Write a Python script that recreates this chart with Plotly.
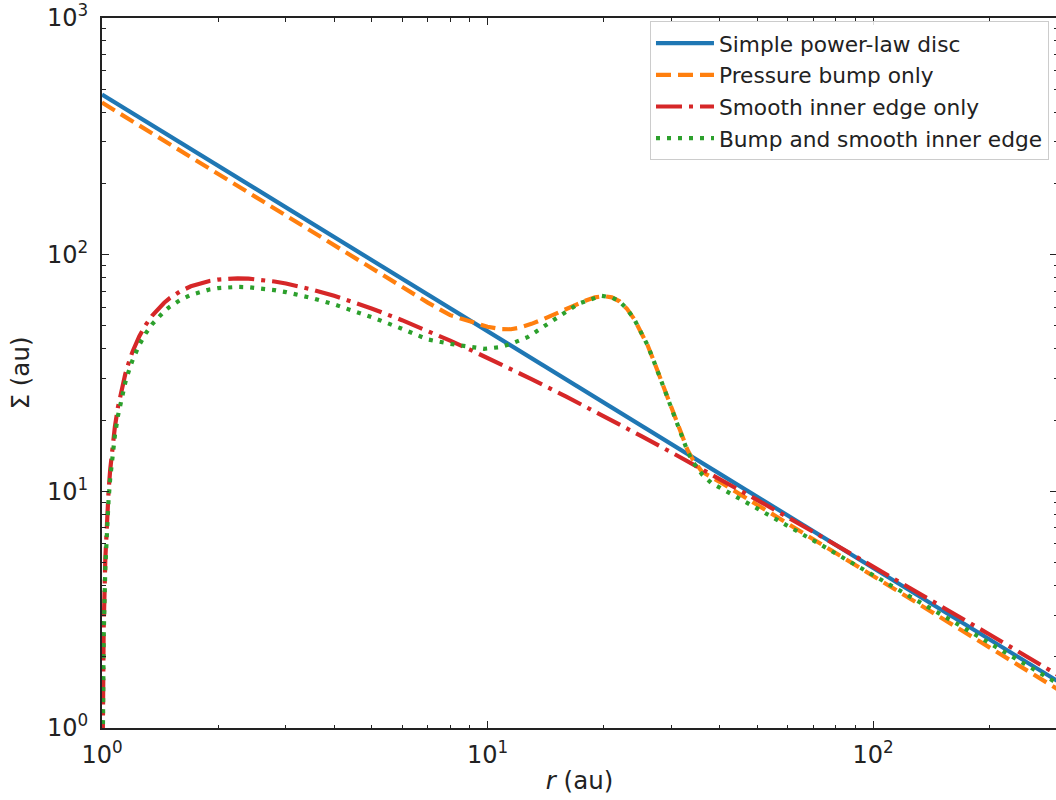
import plotly.graph_objects as go

# ---- data ----
r_simple = [1.0, 2.0, 5.0, 10.0, 20.0, 50.0, 100.0, 200.0, 300.0]
sigma_simple = [475.0, 237.5, 95.0, 47.5, 23.75, 9.5, 4.75, 2.375, 1.583]

r_bump = [1.0, 1.5, 2.0, 3.0, 4.0, 5.0, 6.0, 7.0, 8.0, 9.0, 10.0, 10.8, 11.5, 12.0,
          13.0, 14.0, 15.0, 16.0, 17.0, 18.0, 19.0, 20.0, 21.0, 22.0, 23.0, 24.0,
          25.0, 26.0, 27.0, 28.0, 29.0, 30.0, 31.0, 32.0, 33.0, 34.0, 35.0, 36.0,
          38.0, 40.0, 50.0, 70.0, 100.0, 150.0, 200.0, 300.0]
sigma_bump = [439.0, 292.6, 219.5, 146.3, 109.7, 87.8, 73.2, 62.7, 55.5, 52.3, 49.6, 48.5, 48.4, 49.0,
              51.0, 53.5, 56.0, 58.5, 61.5, 64.0, 66.0, 66.8, 66.0, 63.5, 59.0, 53.5,
              47.5, 41.5, 35.5, 30.4, 26.0, 22.0, 19.3, 16.8, 15.0, 13.7, 12.8, 12.1,
              11.5, 10.97, 8.78, 6.27, 4.39, 2.93, 2.19, 1.463]

r_edge = [1.002, 1.005, 1.01, 1.02, 1.03, 1.04, 1.05, 1.06, 1.07, 1.08, 1.1, 1.12, 1.15, 1.18,
          1.2, 1.25, 1.3, 1.35, 1.4, 1.45, 1.5, 1.6, 1.7, 1.8, 1.9, 2.0, 2.1, 2.25, 2.4, 2.6,
          2.8, 3.0, 3.2, 3.5, 4.0, 4.5, 5.0, 6.0, 7.0, 8.0, 9.0, 10.0, 11.5, 13.0, 16.0,
          20.0, 25.0, 30.0, 40.0, 50.0, 70.0, 100.0, 150.0, 200.0, 300.0]
sigma_edge = [0.534, 1.33, 2.634, 5.177, 7.634, 10.01, 12.30, 14.52, 16.66, 18.73, 22.68, 26.36, 31.46, 36.08,
              38.92, 45.27, 50.69, 55.32, 59.29, 62.67, 65.57, 70.16, 73.48, 75.83, 77.45, 78.50, 79.11, 79.41, 79.17, 78.30,
              77.03, 75.51, 73.86, 71.28, 67.0, 62.96, 59.26, 52.86, 47.63, 43.31, 39.70, 36.65, 32.86, 29.80, 25.13,
              20.81, 17.15, 14.60, 11.28, 9.204, 6.742, 4.824, 3.282, 2.490, 1.683]

r_both = [1.002, 1.005, 1.01, 1.02, 1.03, 1.04, 1.05, 1.06, 1.07, 1.08, 1.1, 1.12, 1.15, 1.18,
          1.2, 1.25, 1.3, 1.35, 1.4, 1.45, 1.5, 1.6, 1.7, 1.8, 1.9, 2.0, 2.1, 2.25, 2.4, 2.6,
          2.8, 3.0, 3.2, 3.5, 4.0, 4.5, 5.0, 6.0, 7.0, 8.0, 9.0, 9.8, 10.8, 11.5,
          12.7, 14.6, 15.5, 17.2, 19.7, 21.0, 22.0, 23.0, 24.0, 25.0, 26.0, 27.0, 28.0,
          29.0, 30.0, 31.0, 32.0, 33.0, 34.0, 35.0, 36.0, 38.0, 40.0, 50.0, 70.0,
          100.0, 150.0, 200.0, 300.0]
sigma_both = [0.491, 1.224, 2.42, 4.76, 7.02, 9.21, 11.32, 13.36, 15.33, 17.23, 20.87, 24.25, 28.94, 33.19,
              35.81, 41.65, 46.63, 50.89, 54.55, 57.66, 60.32, 64.55, 67.6, 69.76, 71.25, 72.22, 72.78, 73.06, 72.84, 72.04,
              70.87, 69.47, 67.95, 65.58, 61.64, 57.92, 54.52, 48.63, 43.82, 42.0, 40.8, 40.0, 40.7, 42.0,
              44.8, 51.8, 55.5, 62.0, 67.0, 66.0, 63.5, 59.0, 53.5, 47.5, 41.5, 35.5, 30.2,
              25.8, 22.0, 19.2, 16.6, 14.8, 13.4, 12.5, 11.8, 10.87, 10.38, 8.47, 6.20,
              4.44, 3.02, 2.29, 1.548]

labels = ["Simple power-law disc", "Pressure bump only",
          "Smooth inner edge only", "Bump and smooth inner edge"]
colors = ["#1f77b4", "#ff7f0e", "#d62728", "#2ca02c"]

x_tickvals = [1, 10, 100]
x_ticktext = ["10<sup>0</sup>", "10<sup>1</sup>", "10<sup>2</sup>"]
y_tickvals = [1, 10, 100, 1000]
y_ticktext = ["10<sup>0</sup>", "10<sup>1</sup>", "10<sup>2</sup>", "10<sup>3</sup>"]
x_minor = [2, 3, 4, 5, 6, 7, 8, 9, 20, 30, 40, 50, 60, 70, 80, 90, 200, 300]
y_minor = [2, 3, 4, 5, 6, 7, 8, 9, 20, 30, 40, 50, 60, 70, 80, 90, 200, 300, 400, 500, 600, 700, 800, 900]

x_range = [0, 2.4771]
y_range = [-0.0000001, 3.0000001]

FONT = "DejaVu Sans"
TXT = "#222222"
LW = 4.2
TICKFONT = 24
TITLEFONT = 24.5

fig = go.Figure()
fig.add_trace(go.Scatter(x=r_simple, y=sigma_simple, mode="lines", name=labels[0],
                         legendgroup="a", line=dict(color=colors[0], width=LW)))
fig.add_trace(go.Scatter(x=r_bump, y=sigma_bump, mode="lines", name=labels[1],
                         legendgroup="b", line=dict(color=colors[1], width=LW, dash="15px,7px")))
fig.add_trace(go.Scatter(x=r_edge, y=sigma_edge, mode="lines", name=labels[2],
                         legendgroup="c", line=dict(color=colors[2], width=LW, dash="26px,7px,4px,7px")))
fig.add_trace(go.Scatter(x=r_both, y=sigma_both, mode="lines", name=labels[3],
                         legendgroup="d", xaxis="x2", yaxis="y2",
                         line=dict(color=colors[3], width=LW, dash="4px,7px")))

tick_common = dict(ticks="inside", ticklen=7, tickwidth=1.3, tickcolor=TXT, showgrid=False,
                   zeroline=False)
minor_common = dict(ticks="inside", ticklen=3.5, tickwidth=1, tickcolor=TXT, showgrid=False)

fig.update_layout(
    width=1057, height=800, autosize=False,
    paper_bgcolor="white", plot_bgcolor="white",
    margin=dict(l=102, r=0, t=13.5, b=72),
    font=dict(family=FONT, size=21, color=TXT),
    showlegend=True,
    legend=dict(x=0.9916, y=0.9951, xanchor="right", yanchor="top",
                bgcolor="rgba(255,255,255,0.85)", bordercolor="#cccccc", borderwidth=1,
                font=dict(family=FONT, size=21.7, color=TXT),
                traceorder="grouped", tracegroupgap=0.5, itemwidth=58),
    xaxis=dict(type="log", range=x_range, tickmode="array", tickvals=x_tickvals,
               ticktext=x_ticktext, showline=True, linewidth=2, linecolor=TXT, mirror=True,
               ticklabelstandoff=4, tickfont=dict(size=TICKFONT), ticklabeloverflow="allow",
               minor=dict(tickmode="array", tickvals=x_minor, **minor_common),
               title=dict(text="<i>r</i> (au)", font=dict(size=TITLEFONT), standoff=4),
               **tick_common),
    yaxis=dict(type="log", range=y_range, tickmode="array", tickvals=y_tickvals,
               ticktext=y_ticktext, showline=True, linewidth=2, linecolor=TXT, mirror=False,
               ticklabelstandoff=7, tickfont=dict(size=TICKFONT), ticklabeloverflow="allow",
               minor=dict(tickmode="array", tickvals=y_minor, **minor_common),
               title=dict(text="Σ (au)", font=dict(size=TITLEFONT), standoff=10),
               **tick_common),
    xaxis2=dict(type="log", range=x_range, overlaying="x", side="top", anchor="y",
                tickmode="array", tickvals=x_tickvals, showticklabels=False, showline=False,
                minor=dict(tickmode="array", tickvals=x_minor, **minor_common),
                **tick_common),
    yaxis2=dict(type="log", range=y_range, overlaying="y", side="right", anchor="x",
                tickmode="array", tickvals=y_tickvals, showticklabels=False, showline=False,
                minor=dict(tickmode="array", tickvals=y_minor, **minor_common),
                **tick_common),
)

fig.write_html("out.html", config={"displayModeBar": False},
               post_script="document.body.style.margin='0';document.body.style.overflow='hidden';")
